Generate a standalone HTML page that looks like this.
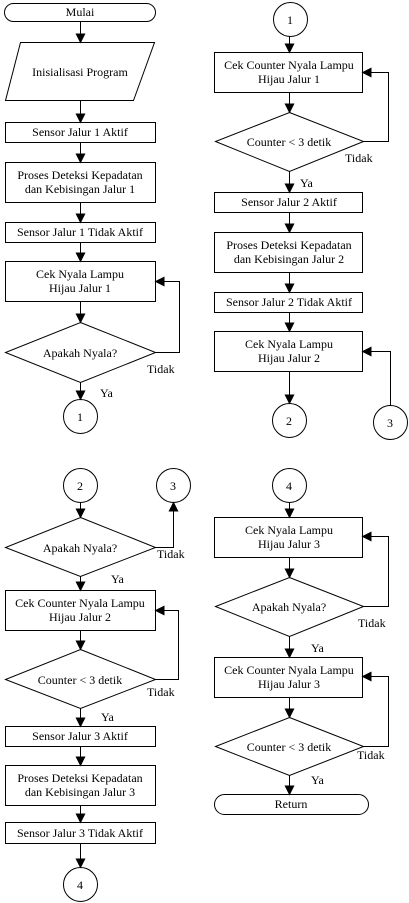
<!DOCTYPE html>
<html><head><meta charset="utf-8"><style>
html,body{margin:0;padding:0;background:#fff;}
svg{display:block;}
text{font-family:"Liberation Serif",serif;font-size:12px;fill:#000;}
</style></head><body>
<svg width="409" height="903" viewBox="0 0 409 903" xmlns="http://www.w3.org/2000/svg">
<defs>
<marker id="a" markerWidth="10" markerHeight="10" refX="9" refY="5" orient="auto" markerUnits="userSpaceOnUse">
<path d="M0,0 L10,5 L0,10 z" fill="#000"/>
</marker>
</defs>
<g fill="#fff" stroke="#000" stroke-width="1">
<rect x="4.5" y="3.5" width="151" height="18" rx="9"/>
<polygon points="20.5,42.5 154.5,42.5 133.5,100.5 5.5,100.5"/>
<rect x="5.5" y="122.5" width="150" height="20"/>
<rect x="5.5" y="162.5" width="150" height="40"/>
<rect x="5.5" y="222.5" width="150" height="20"/>
<rect x="5.5" y="261.5" width="150" height="40"/>
<polygon points="80.5,322.5 155.5,352.5 80.5,382.5 5.5,352.5"/>
<circle cx="80.5" cy="416.5" r="17"/>
<circle cx="290.5" cy="19.5" r="17"/>
<rect x="214.5" y="52.5" width="148" height="40"/>
<polygon points="289.5,112.5 363.5,141.5 289.5,171.5 215.5,141.5"/>
<rect x="214.5" y="192.5" width="148" height="20"/>
<rect x="214.5" y="232.5" width="148" height="40"/>
<rect x="214.5" y="292.5" width="148" height="20"/>
<rect x="214.5" y="331.5" width="148" height="40"/>
<circle cx="289.5" cy="420.5" r="17"/>
<circle cx="390.5" cy="422.5" r="17"/>
<circle cx="80.5" cy="485.5" r="17"/>
<circle cx="173.5" cy="485.5" r="17"/>
<polygon points="80.5,517.5 155.5,547.5 80.5,576.5 5.5,547.5"/>
<rect x="5.5" y="590.5" width="150" height="40"/>
<polygon points="80.5,649.5 155.5,679.5 80.5,708.5 5.5,679.5"/>
<rect x="5.5" y="726.5" width="150" height="20"/>
<rect x="5.5" y="765.5" width="150" height="40"/>
<rect x="5.5" y="822.5" width="150" height="21"/>
<circle cx="80.5" cy="884.5" r="17"/>
<circle cx="289.5" cy="485.5" r="17"/>
<rect x="214.5" y="517.5" width="148" height="40"/>
<polygon points="289.5,577.5 363.5,606.5 289.5,636.5 215.5,606.5"/>
<rect x="214.5" y="657.5" width="148" height="40"/>
<polygon points="289.5,717.5 363.5,746.5 289.5,775.5 215.5,746.5"/>
<rect x="214.5" y="794.5" width="154" height="20" rx="10"/>
</g>
<g stroke="#000" stroke-width="1" fill="none" marker-end="url(#a)">
<line x1="80.5" y1="21.5" x2="80.5" y2="42.5"/>
<line x1="80.5" y1="100.5" x2="80.5" y2="122.5"/>
<line x1="80.5" y1="142.5" x2="80.5" y2="162.5"/>
<line x1="80.5" y1="202.5" x2="80.5" y2="222.5"/>
<line x1="80.5" y1="242.5" x2="80.5" y2="261.5"/>
<line x1="80.5" y1="301.5" x2="80.5" y2="322.5"/>
<line x1="80.5" y1="382.5" x2="80.5" y2="399.5"/>
<polyline points="155.5,352.5 179.5,352.5 179.5,281.5 155.5,281.5"/>
<line x1="289.5" y1="36.5" x2="289.5" y2="52.5"/>
<line x1="289.5" y1="92.5" x2="289.5" y2="112.5"/>
<line x1="289.5" y1="171.5" x2="289.5" y2="192.5"/>
<line x1="289.5" y1="212.5" x2="289.5" y2="232.5"/>
<line x1="289.5" y1="272.5" x2="289.5" y2="292.5"/>
<line x1="289.5" y1="312.5" x2="289.5" y2="331.5"/>
<line x1="289.5" y1="371.5" x2="289.5" y2="403.5"/>
<polyline points="363.5,141.5 388.5,141.5 388.5,72.5 362.5,72.5"/>
<polyline points="390.5,405.5 390.5,351.5 362.5,351.5"/>
<line x1="80.5" y1="502.5" x2="80.5" y2="517.5"/>
<line x1="80.5" y1="576.5" x2="80.5" y2="590.5"/>
<line x1="80.5" y1="630.5" x2="80.5" y2="649.5"/>
<line x1="80.5" y1="708.5" x2="80.5" y2="726.5"/>
<line x1="80.5" y1="746.5" x2="80.5" y2="765.5"/>
<line x1="80.5" y1="805.5" x2="80.5" y2="822.5"/>
<line x1="80.5" y1="843.5" x2="80.5" y2="867.5"/>
<polyline points="155.5,547.5 173.5,547.5 173.5,502.5"/>
<polyline points="155.5,679.5 178.5,679.5 178.5,610.5 155.5,610.5"/>
<line x1="289.5" y1="502.5" x2="289.5" y2="517.5"/>
<line x1="289.5" y1="557.5" x2="289.5" y2="577.5"/>
<line x1="289.5" y1="636.5" x2="289.5" y2="657.5"/>
<line x1="289.5" y1="697.5" x2="289.5" y2="717.5"/>
<line x1="289.5" y1="775.5" x2="289.5" y2="794.5"/>
<polyline points="363.5,606.5 388.5,606.5 388.5,536.5 362.5,536.5"/>
<polyline points="363.5,746.5 388.5,746.5 388.5,676.5 362.5,676.5"/>
</g>
<g text-anchor="middle">
<text x="80" y="16">Mulai</text>
<text x="80" y="76">Inisialisasi Program</text>
<text x="80" y="136">Sensor Jalur 1 Aktif</text>
<text x="80" y="179">Proses Deteksi Kepadatan</text>
<text x="80" y="193">dan Kebisingan Jalur 1</text>
<text x="80" y="236">Sensor Jalur 1 Tidak Aktif</text>
<text x="80" y="278">Cek Nyala Lampu</text>
<text x="80" y="292">Hijau Jalur 1</text>
<text x="80" y="357">Apakah Nyala?</text>
<text x="80" y="421">1</text>
<text x="290" y="24">1</text>
<text x="289" y="69">Cek Counter Nyala Lampu</text>
<text x="289" y="83">Hijau Jalur 1</text>
<text x="289" y="146">Counter &lt; 3 detik</text>
<text x="289" y="206">Sensor Jalur 2 Aktif</text>
<text x="289" y="249">Proses Deteksi Kepadatan</text>
<text x="289" y="263">dan Kebisingan Jalur 2</text>
<text x="289" y="306">Sensor Jalur 2 Tidak Aktif</text>
<text x="289" y="348">Cek Nyala Lampu</text>
<text x="289" y="362">Hijau Jalur 2</text>
<text x="289" y="425">2</text>
<text x="390" y="427">3</text>
<text x="80" y="490">2</text>
<text x="173" y="490">3</text>
<text x="80" y="552">Apakah Nyala?</text>
<text x="80" y="607">Cek Counter Nyala Lampu</text>
<text x="80" y="621">Hijau Jalur 2</text>
<text x="80" y="684">Counter &lt; 3 detik</text>
<text x="80" y="740">Sensor Jalur 3 Aktif</text>
<text x="80" y="782">Proses Deteksi Kepadatan</text>
<text x="80" y="796">dan Kebisingan Jalur 3</text>
<text x="80" y="837">Sensor Jalur 3 Tidak Aktif</text>
<text x="80" y="889">4</text>
<text x="289" y="490">4</text>
<text x="289" y="534">Cek Nyala Lampu</text>
<text x="289" y="548">Hijau Jalur 3</text>
<text x="289" y="611">Apakah Nyala?</text>
<text x="289" y="674">Cek Counter Nyala Lampu</text>
<text x="289" y="688">Hijau Jalur 3</text>
<text x="289" y="751">Counter &lt; 3 detik</text>
<text x="291" y="808">Return</text>
</g>
<g>
<text x="147" y="373">Tidak</text>
<text x="100" y="397">Ya</text>
<text x="345" y="162">Tidak</text>
<text x="300" y="187">Ya</text>
<text x="157" y="558">Tidak</text>
<text x="111" y="583">Ya</text>
<text x="147" y="696">Tidak</text>
<text x="101" y="721">Ya</text>
<text x="358" y="627">Tidak</text>
<text x="311" y="652">Ya</text>
<text x="357" y="759">Tidak</text>
<text x="311" y="784">Ya</text>
</g>
</svg>
</body></html>
